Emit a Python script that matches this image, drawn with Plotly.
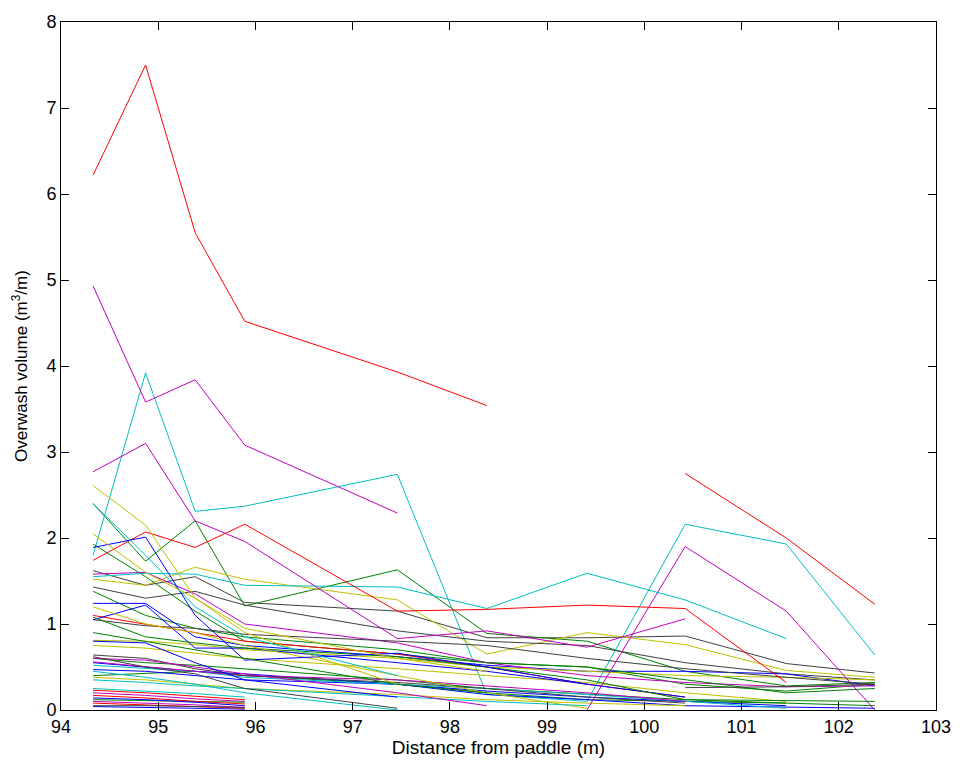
import plotly.graph_objects as go

# Measurement stations (distance from paddle, m)
stations = [94.33, 94.87, 95.38, 95.89, 97.46, 98.38, 99.41, 100.42, 101.46, 102.37]

# Overwash volume (m^3/m) per run, grouped by the stations each run covers
runs_94_to_102 = [
    [1.62, 1.45, 1.55, 1.25, 1.15, 0.84, 0.84, 0.86, 0.54, 0.43],
    [2.40, 1.73, 2.20, 1.21, 1.63, 0.89, 0.80, 0.45, 0.28, 0.32],
    [1.80, 3.92, 2.31, 2.37, 2.74, 0.18, 0.10, 2.16, 1.93, 0.64],
    [1.52, 1.45, 1.66, 1.52, 1.28, 0.65, 0.90, 0.76, 0.46, 0.38],
    [1.43, 1.30, 1.38, 1.22, 0.92, 0.80, 0.75, 0.55, 0.42, 0.35],
    [1.38, 1.10, 0.95, 0.85, 0.70, 0.55, 0.50, 0.30, 0.22, 0.30],
    [1.24, 1.24, 0.85, 0.75, 0.62, 0.52, 0.45, 0.45, 0.42, 0.28],
    [1.58, 1.60, 1.35, 1.00, 0.78, 0.55, 0.40, 0.32, 0.27, 0.28],
    [0.81, 0.80, 0.76, 0.70, 0.60, 0.50, 0.45, 0.40, 0.38, 0.35],
    [0.40, 0.43, 0.45, 0.40, 0.30, 0.20, 0.12, 0.10, 0.08, 0.05],
    [0.55, 0.50, 0.45, 0.42, 0.30, 0.18, 0.12, 0.05, 0.03, 0.02],
    [1.05, 0.98, 0.95, 0.88, 0.80, 0.75, 0.60, 0.48, 0.38, 0.30],
    [1.93, 1.55, 1.15, 0.80, 0.65, 0.55, 0.50, 0.35, 0.20, 0.25],
]
colors_94_to_102 = ["k", "g", "c", "y", "k", "g", "b", "m", "y", "g", "b", "k", "g"]

runs_94_to_101 = [
    [1.55, 1.59, 1.58, 1.45, 1.43, 1.18, 1.59, 1.28, 0.83],
    [1.74, 2.07, 1.89, 2.16, 1.15, 1.17, 1.22, 1.18, 0.32],
    [0.75, 0.72, 0.66, 0.60, 0.48, 0.40, 0.32, 0.20, 0.10],
    [0.60, 0.55, 0.52, 0.48, 0.35, 0.25, 0.18, 0.12, 0.08],
    [0.47, 0.45, 0.40, 0.35, 0.30, 0.22, 0.15, 0.10, 0.05],
    [0.52, 0.48, 0.45, 0.38, 0.30, 0.25, 0.18, 0.10, 0.02],
]
colors_94_to_101 = ["c", "r", "y", "g", "b", "c"]

runs_94_to_100 = [
    [2.77, 3.10, 2.20, 1.96, 0.83, 0.92, 0.73, 1.06],
    [1.10, 1.00, 0.90, 0.80, 0.65, 0.50, 0.30, 0.15],
    [1.05, 1.22, 0.72, 0.72, 0.55, 0.45, 0.30, 0.15],
    [1.08, 0.85, 0.78, 0.72, 0.62, 0.50, 0.35, 0.12],
    [0.56, 0.50, 0.45, 0.40, 0.35, 0.28, 0.20, 0.10],
    [0.64, 0.60, 0.48, 0.40, 0.32, 0.25, 0.15, 0.08],
    [0.38, 0.35, 0.30, 0.25, 0.18, 0.12, 0.08, 0.05],
]
colors_94_to_100 = ["m", "r", "b", "g", "m", "k", "y"]

runs_94_to_99 = [
    [1.20, 1.00, 0.90, 0.75, 0.40, 0.20, 0.02],
    [1.89, 2.01, 1.10, 0.58, 0.66, 0.50, 0.30],
    [0.35, 0.32, 0.28, 0.25, 0.15, 0.10, 0.05],
]
colors_94_to_99 = ["y", "b", "c"]

runs_94_to_98 = [
    [6.22, 7.50, 5.55, 4.52, 3.93, 3.54],
    [0.60, 0.58, 0.50, 0.42, 0.20, 0.05],
    [2.61, 2.15, 1.30, 0.95, 0.60, 0.45],
    [0.90, 0.80, 0.70, 0.60, 0.30, 0.20],
]
colors_94_to_98 = ["r", "m", "y", "g"]

runs_94_to_97 = [
    [4.93, 3.58, 3.84, 3.08, 2.29],
    [0.62, 0.50, 0.42, 0.25, 0.02],
    [0.45, 0.38, 0.30, 0.20, 0.00],
    [2.05, 1.60, 1.30, 0.90, 0.30],
    [2.40, 1.80, 1.20, 0.85, 0.40],
    [0.80, 0.78, 0.55, 0.35, 0.15],
]
colors_94_to_97 = ["m", "k", "c", "y", "c", "b"]

runs_94_to_96 = [
    [0.23, 0.20, 0.16, 0.12],
    [0.20, 0.17, 0.13, 0.10],
    [0.12, 0.11, 0.10, 0.09],
    [0.17, 0.14, 0.10, 0.07],
    [0.04, 0.03, 0.02, 0.01],
    [0.25, 0.22, 0.19, 0.15],
    [0.08, 0.06, 0.04, 0.02],
    [0.10, 0.08, 0.06, 0.03],
    [0.05, 0.05, 0.04, 0.03],
    [0.14, 0.12, 0.09, 0.05],
]
colors_94_to_96 = ["r", "m", "g", "r", "b", "c", "r", "m", "k", "b"]

runs_99_to_102 = [
    [0.00, 1.90, 1.15, 0.00],
]
colors_99_to_102 = ["m"]

runs_100_to_102 = [
    [2.75, 2.00, 1.23],
    [0.26, 0.27, 0.30],
    [0.12, 0.11, 0.10],
]
colors_100_to_102 = ["r", "k", "g"]

palette = {
    "b": "#0000FF", "g": "#008000", "r": "#FF0000", "c": "#00BFBF",
    "m": "#BF00BF", "y": "#BFBF00", "k": "#404040",
}

groups = [
    (0, runs_94_to_102, colors_94_to_102),
    (0, runs_94_to_101, colors_94_to_101),
    (0, runs_94_to_100, colors_94_to_100),
    (0, runs_94_to_99, colors_94_to_99),
    (0, runs_94_to_98, colors_94_to_98),
    (0, runs_94_to_97, colors_94_to_97),
    (0, runs_94_to_96, colors_94_to_96),
    (6, runs_99_to_102, colors_99_to_102),
    (7, runs_100_to_102, colors_100_to_102),
]

fig = go.Figure()
for start, runs, cols in groups:
    for vals, c in zip(runs, cols):
        fig.add_trace(go.Scatter(
            x=stations[start:start + len(vals)], y=vals, mode="lines",
            line=dict(color=palette[c], width=1), showlegend=False,
            hoverinfo="skip",
        ))

fam = "Liberation Sans, Arial, sans-serif"
tick_font = dict(family=fam, size=18, color="black")
fig.update_layout(
    width=963, height=771,
    margin=dict(l=61, r=25, t=17, b=61),
    paper_bgcolor="white", plot_bgcolor="white",
    font=dict(family=fam, size=17, color="black"),
    xaxis=dict(
        range=[94, 103], tick0=94, dtick=1, ticks="inside", ticklen=8,
        tickcolor="black", showline=True, linecolor="black", linewidth=1,
        mirror="ticks", showgrid=False, zeroline=False,
        title=dict(text="Distance from paddle (m)", standoff=4,
                   font=dict(family=fam, size=19, color="black")),
        tickfont=tick_font,
    ),
    yaxis=dict(
        range=[0, 8], tick0=0, dtick=1, ticks="inside", ticklen=8,
        tickcolor="black", showline=True, linecolor="black", linewidth=1,
        mirror="ticks", showgrid=False, zeroline=False,
        title=dict(text="Overwash volume (m<sup>3</sup>/m)", standoff=14,
                   font=dict(family=fam, size=17, color="black")),
        tickfont=tick_font,
    ),
)

fig.write_html("out.html", config={"displayModeBar": False})

# Remove the default page margin so the figure sits at the window origin
with open("out.html", "r", encoding="utf-8") as f:
    html = f.read()
html = html.replace("<head>", "<head><style>html,body{margin:0;padding:0;overflow:hidden;}</style>", 1)
with open("out.html", "w", encoding="utf-8") as f:
    f.write(html)
